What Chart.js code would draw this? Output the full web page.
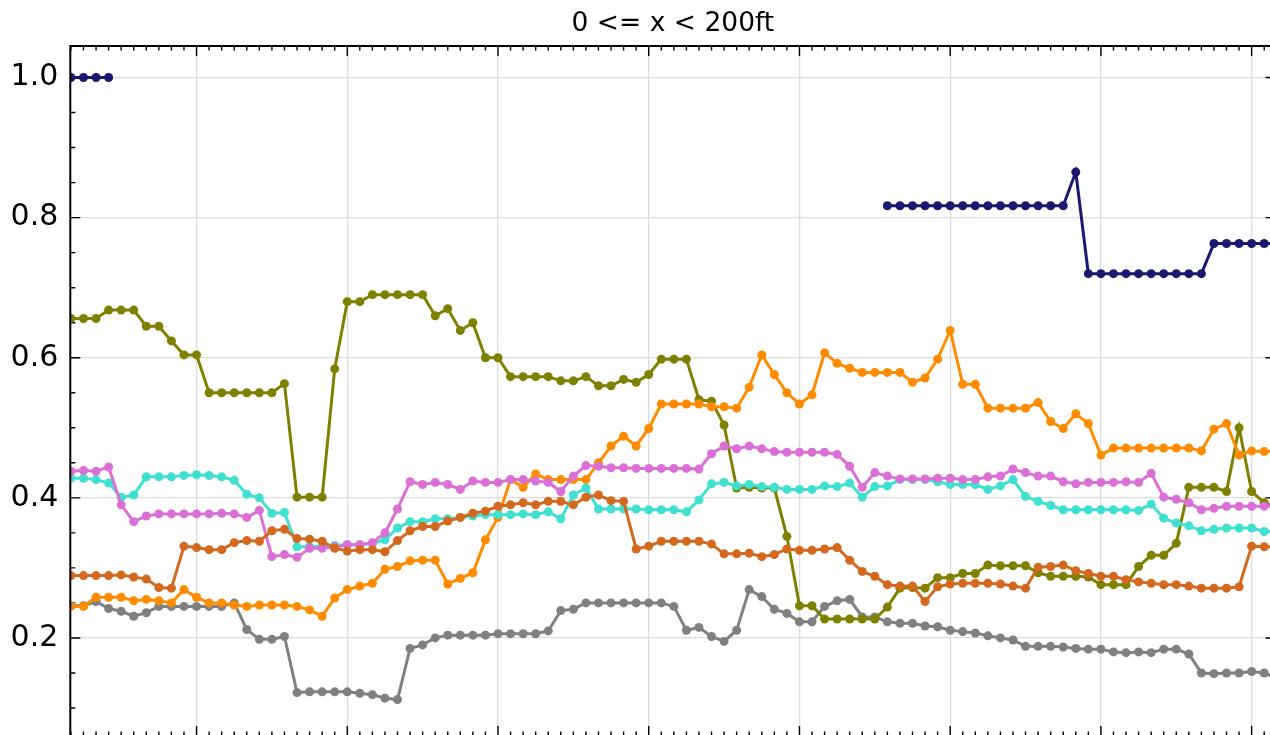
<!DOCTYPE html>
<html>
<head>
<meta charset="utf-8">
<title>0 &lt;= x &lt; 200ft</title>
<script src="https://cdn.jsdelivr.net/npm/chart.js@4.4.1/dist/chart.umd.min.js"></script>
<style>
  html, body { margin: 0; padding: 0; background: #fff; overflow: hidden; }
  #chart { display: block; width: 1280px; height: 745px; }
</style>
</head>
<body>
<canvas id="chart" width="1280" height="745"></canvas>
<script>
// ── Data ─────────────────────────────────────────────────────
const sampleIdx = [
   0, 1, 2, 3, 4, 5, 6, 7, 8, 9,10,11,12,13,14,15,16,17,18,19,
  20,21,22,23,24,25,26,27,28,29,30,31,32,33,34,35,36,37,38,39,
  40,41,42,43,44,45,46,47,48,49,50,51,52,53,54,55,56,57,58,59,
  60,61,62,63,64,65,66,67,68,69,70,71,72,73,74,75,76,77,78,79,
  80,81,82,83,84,85,86,87,88,89,90,91,92,93,94,95,96
];

const navy = [
  1.0, 1.0, 1.0, 1.0, null, null, null, null, null, null,
  null, null, null, null, null, null, null, null, null, null,
  null, null, null, null, null, null, null, null, null, null,
  null, null, null, null, null, null, null, null, null, null,
  null, null, null, null, null, null, null, null, null, null,
  null, null, null, null, null, null, null, null, null, null,
  null, null, null, null, null, .817, .817, .817, .817, .817,
  .817, .817, .817, .817, .817, .817, .817, .817, .817, .817,
  .865, .720, .720, .720, .720, .720, .720, .720, .720, .720,
  .720, .763, .763, .763, .763, .763, .763
];

const olive = [
  .656, .656, .656, .668, .668, .668, .645, .645, .624, .604,
  .604, .550, .550, .550, .550, .550, .550, .563, .401, .401,
  .401, .584, .680, .680, .690, .690, .690, .690, .690, .660,
  .670, .639, .650, .600, .600, .573, .573, .573, .573, .567,
  .567, .573, .560, .560, .569, .565, .576, .598, .598, .598,
  .540, .538, .504, .414, .415, .414, .414, .345, .246, .246,
  .227, .227, .227, .227, .227, .244, .271, .272, .271, .286,
  .286, .292, .292, .304, .303, .303, .303, .293, .288, .288,
  .288, .287, .276, .276, .276, .302, .318, .318, .335, .415,
  .415, .415, .409, .500, .409, .393, .385
];

const orange = [
  .245, .245, .258, .258, .258, .253, .255, .253, .250, .269,
  .258, .250, .250, .247, .245, .247, .247, .247, .245, .240,
  .231, .257, .269, .274, .278, .298, .302, .310, .311, .311,
  .277, .285, .293, .340, .372, .426, .415, .434, .426, .426,
  .426, .426, .450, .474, .488, .474, .499, .534, .534, .534,
  .534, .530, .530, .528, .558, .604, .576, .550, .534, .547,
  .607, .592, .585, .579, .579, .579, .579, .565, .571, .598,
  .639, .562, .562, .528, .528, .528, .528, .536, .509, .499,
  .520, .506, .461, .471, .471, .471, .471, .471, .471, .471,
  .467, .498, .506, .461, .467, .466, .466
];

const orchid = [
  .438, .439, .438, .444, .390, .366, .374, .377, .377, .377,
  .377, .377, .378, .377, .372, .382, .316, .319, .315, .328,
  .328, .330, .333, .333, .336, .350, .384, .423, .419, .422,
  .419, .412, .424, .422, .422, .426, .426, .424, .422, .409,
  .431, .446, .445, .443, .443, .442, .442, .442, .442, .442,
  .441, .463, .474, .470, .474, .470, .466, .465, .465, .465,
  .465, .462, .445, .415, .436, .431, .427, .427, .427, .428,
  .428, .426, .426, .430, .431, .441, .436, .431, .431, .423,
  .420, .422, .422, .422, .423, .422, .435, .401, .398, .393,
  .383, .385, .388, .388, .388, .388, .388
];

const turquoise = [
  .428, .428, .426, .421, .401, .404, .430, .430, .430, .432,
  .433, .432, .430, .425, .405, .400, .378, .379, .330, .330,
  .331, .332, .333, .333, .335, .340, .357, .366, .366, .370,
  .370, .372, .374, .376, .376, .376, .377, .376, .380, .370,
  .404, .414, .384, .384, .384, .384, .383, .383, .383, .380,
  .397, .420, .422, .417, .419, .416, .415, .412, .412, .412,
  .417, .416, .421, .401, .416, .417, .426, .426, .426, .423,
  .419, .419, .419, .412, .417, .426, .402, .395, .389, .383,
  .383, .383, .383, .383, .383, .382, .391, .371, .364, .360,
  .353, .355, .357, .357, .357, .352, .352
];

const chocolate = [
  .289, .289, .289, .289, .290, .287, .284, .272, .271, .331,
  .329, .326, .326, .336, .339, .338, .353, .355, .342, .341,
  .338, .328, .324, .326, .326, .323, .339, .353, .359, .359,
  .367, .372, .378, .381, .388, .390, .393, .390, .395, .395,
  .390, .401, .404, .396, .395, .327, .331, .338, .338, .338,
  .338, .334, .320, .320, .321, .316, .319, .327, .325, .325,
  .327, .329, .311, .295, .288, .276, .274, .274, .252, .273,
  .277, .278, .278, .278, .277, .274, .271, .301, .302, .304,
  .296, .292, .288, .288, .283, .280, .278, .276, .276, .274,
  .271, .271, .271, .273, .331, .330, .330
];

const gray = [
  .246, .246, .252, .242, .238, .231, .236, .245, .245, .245,
  .245, .245, .245, .250, .212, .198, .198, .202, .122, .123,
  .123, .123, .123, .121, .119, .114, .112, .185, .190, .200,
  .204, .204, .204, .204, .206, .206, .206, .206, .210, .239,
  .241, .250, .250, .250, .250, .250, .250, .250, .245, .211,
  .215, .202, .195, .211, .269, .259, .241, .235, .223, .223,
  .245, .253, .255, .230, .230, .223, .221, .221, .217, .216,
  .211, .209, .207, .203, .200, .197, .188, .188, .188, .187,
  .185, .184, .184, .180, .179, .180, .179, .184, .184, .177,
  .150, .149, .150, .150, .152, .150, .142
];

// axis ticks
const xMajor = [10, 22, 34, 46, 58, 70, 82, 94];
const yTicks = [0.2, 0.4, 0.6, 0.8, 1.0];
const yMinor = [0.1, 0.15, 0.25, 0.3, 0.35, 0.45, 0.5, 0.55, 0.65, 0.7, 0.75, 0.85, 0.9, 0.95];

// bottom of the stack first
const seriesList = [
  { name: 'navy',      data: navy,      color: '#191970' },
  { name: 'gray',      data: gray,      color: '#808080' },
  { name: 'olive',     data: olive,     color: '#808000' },
  { name: 'orange',    data: orange,    color: '#FF8C00' },
  { name: 'turquoise', data: turquoise, color: '#40E0D0' },
  { name: 'orchid',    data: orchid,    color: '#DA70D6' },
  { name: 'chocolate', data: chocolate, color: '#D2691E' },
];

// ── Inward ticks + frame ─────────────────────────────────────
const frameTicks = {
  id: 'frameTicks',
  beforeDatasetsDraw(chart) {
    const { ctx, chartArea: a, scales: { x, y } } = chart;
    ctx.save();
    ctx.strokeStyle = '#000';
    ctx.lineWidth = 1.4;
    ctx.beginPath();
    sampleIdx.forEach(v => {
      const px = x.getPixelForValue(v);
      if (px < a.left - 0.5 || px > a.right + 0.5) return;
      const len = xMajor.includes(v) ? 10 : 4.5;
      ctx.moveTo(px, a.top);    ctx.lineTo(px, a.top + len);
      ctx.moveTo(px, a.bottom); ctx.lineTo(px, a.bottom - len);
    });
    yTicks.forEach(v => {
      const py = y.getPixelForValue(v);
      ctx.moveTo(a.left, py);  ctx.lineTo(a.left + 10, py);
      ctx.moveTo(a.right, py); ctx.lineTo(a.right - 10, py);
    });
    yMinor.forEach(v => {
      const py = y.getPixelForValue(v);
      ctx.moveTo(a.left, py);  ctx.lineTo(a.left + 5, py);
      ctx.moveTo(a.right, py); ctx.lineTo(a.right - 5, py);
    });
    ctx.stroke();
    ctx.restore();
  },
  afterDraw(chart) {
    const { ctx, chartArea: a } = chart;
    ctx.save();
    ctx.strokeStyle = '#000';
    ctx.lineWidth = 2;
    ctx.strokeRect(a.left, a.top, a.right - a.left, a.bottom - a.top);
    ctx.restore();
  }
};

// ── Chart ────────────────────────────────────────────────────
const datasets = seriesList.map((s, k) => ({
  label: s.name,
  data: s.data,
  borderColor: s.color,
  backgroundColor: s.color,
  borderWidth: 3,
  pointRadius: 4.5,
  pointBorderWidth: 0,
  pointHoverRadius: 4.5,
  tension: 0,
  spanGaps: false,
  order: seriesList.length - k,
}));

new Chart(document.getElementById('chart'), {
  type: 'line',
  data: { labels: sampleIdx, datasets },
  options: {
    responsive: false,
    devicePixelRatio: 1,
    animation: false,
    layout: { padding: { left: 0, right: 4.5, top: 0, bottom: 9 } },
    plugins: {
      legend: { display: false },
      tooltip: { enabled: false },
      title: {
        display: true,
        text: '0 <= x < 200ft',
        fullSize: false,
        color: '#000',
        font: { family: 'DejaVu Sans', size: 26.5, weight: 'normal' },
        padding: { top: 8.5, bottom: 5.7 },
      },
    },
    scales: {
      x: {
        type: 'linear',
        min: -0.05,
        max: 95.9,
        border: { display: false },
        grid: { color: '#dcdcdc', lineWidth: 1.3, drawTicks: false },
        ticks: { display: false },
        afterBuildTicks: scale => { scale.ticks = xMajor.map(v => ({ value: v })); },
        afterFit: scale => {
          scale.height = 0;
          scale.paddingLeft = 0; scale.paddingRight = 0;
        },
      },
      y: {
        min: 0.06,
        max: 1.045,
        border: { display: false },
        grid: { color: '#dcdcdc', lineWidth: 1.3, drawTicks: false },
        ticks: {
          color: '#000',
          padding: 12,
          font: { family: 'DejaVu Sans', size: 30 },
          callback: v => v.toFixed(1),
        },
        afterBuildTicks: scale => { scale.ticks = yTicks.map(v => ({ value: v })); },
        afterFit: scale => {
          scale.width = 70.3;
          scale.paddingTop = 0; scale.paddingBottom = 0;
        },
      },
    },
  },
  plugins: [frameTicks],
});
</script>
</body>
</html>
